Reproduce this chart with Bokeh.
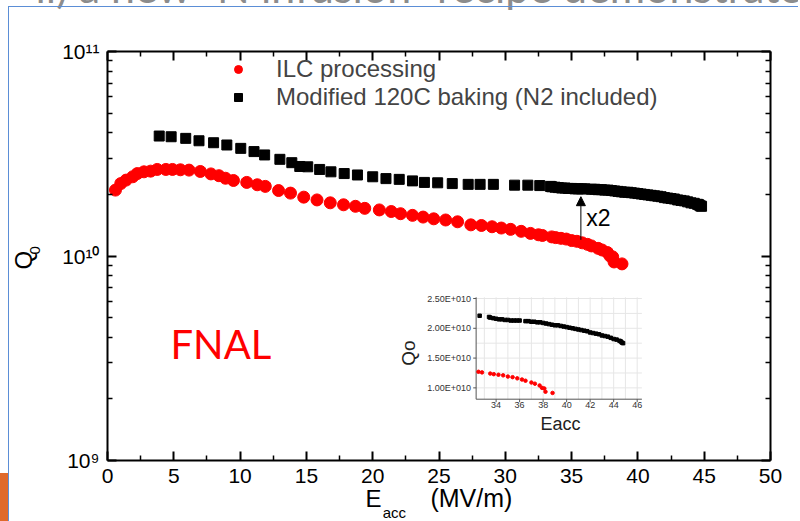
import math
from bokeh.plotting import figure
from bokeh.models import (Range1d, LogScale, LinearAxis, LogAxis, FixedTicker, Label,
                          Arrow, NormalHead, CustomJSTickFormatter, InlineStyleSheet)
from bokeh.core.properties import value
from bokeh.embed import file_html
from bokeh.resources import INLINE

# ---------------- data ----------------
ilc_e = [0.6, 1.0, 1.4, 1.9, 2.25, 2.75, 3.25, 3.75, 4.4, 4.9, 5.5, 6.15, 7.0, 7.8, 8.4, 8.9,
         9.5, 10.5, 11.3, 11.9, 12.9, 13.8, 14.8, 15.8, 16.8, 17.8, 18.7, 19.4, 20.5, 21.4,
         22.1, 23.0, 23.8, 24.6, 25.5, 26.4, 27.4, 28.2, 29.0, 29.7, 30.4, 31.2, 31.9, 32.5,
         32.8, 33.5, 33.8, 34.2, 34.6, 35.0, 35.4, 35.8, 36.2, 36.5, 37.0, 37.3, 37.7, 37.9,
         38.1, 38.2, 38.8]
ilc_q = [2.10e10, 2.26e10, 2.35e10, 2.44e10, 2.53e10, 2.58e10, 2.60e10, 2.65e10, 2.65e10,
         2.65e10, 2.64e10, 2.63e10, 2.59e10, 2.52e10, 2.47e10, 2.40e10, 2.34e10, 2.29e10,
         2.23e10, 2.19e10, 2.09e10, 2.03e10, 1.94e10, 1.88e10, 1.82e10, 1.78e10, 1.75e10,
         1.71e10, 1.68e10, 1.65e10, 1.61e10, 1.58e10, 1.55e10, 1.52e10, 1.50e10, 1.47e10,
         1.42e10, 1.41e10, 1.39e10, 1.37e10, 1.35e10, 1.32e10, 1.29e10, 1.27e10, 1.26e10,
         1.24e10, 1.23e10, 1.22e10, 1.21e10, 1.19e10, 1.18e10, 1.16e10, 1.14e10, 1.12e10,
         1.09e10, 1.07e10, 1.04e10, 1.00e10, 0.99e10, 0.935e10, 0.915e10]

mod_e = [3.9, 4.8, 5.9, 6.9, 8.0, 9.0, 10.05, 11.05, 11.85, 13.0, 13.9, 14.5, 15.1, 16.0,
         16.85, 17.85, 18.85, 20.0, 21.0, 22.0, 23.0, 23.9, 24.9, 26.0, 27.2, 28.1, 29.1,
         30.7, 31.7, 32.6, 33.4, 33.5, 33.75, 34.0, 34.25, 34.5, 34.75, 35.0, 35.25, 35.5,
         35.75, 36.0, 36.5, 36.75, 37.0, 37.25, 37.5, 37.75, 38.0, 38.25, 38.5, 38.75, 39.0,
         39.25, 39.5, 39.75, 40.0, 40.25, 40.5, 40.75, 41.0, 41.25, 41.5, 41.75, 42.0, 42.25,
         42.5, 42.75, 43.0, 43.25, 43.5, 43.75, 44.0, 44.25, 44.5, 44.6, 44.7, 44.8]
mod_q = [3.86e10, 3.83e10, 3.76e10, 3.66e10, 3.58e10, 3.49e10, 3.36e10, 3.24e10, 3.12e10,
         2.97e10, 2.86e10, 2.74e10, 2.73e10, 2.65e10, 2.58e10, 2.53e10, 2.49e10, 2.44e10,
         2.39e10, 2.37e10, 2.33e10, 2.29e10, 2.28e10, 2.26e10, 2.24e10, 2.24e10, 2.24e10,
         2.22e10, 2.22e10, 2.21e10, 2.19e10, 2.18e10, 2.17e10, 2.16e10, 2.15e10, 2.15e10,
         2.14e10, 2.14e10, 2.13e10, 2.13e10, 2.13e10, 2.13e10, 2.12e10, 2.12e10, 2.11e10,
         2.11e10, 2.10e10, 2.10e10, 2.09e10, 2.08e10, 2.07e10, 2.06e10, 2.05e10, 2.05e10,
         2.04e10, 2.03e10, 2.02e10, 2.01e10, 2.00e10, 1.99e10, 1.98e10, 1.97e10, 1.96e10,
         1.95e10, 1.93e10, 1.92e10, 1.91e10, 1.90e10, 1.88e10, 1.87e10, 1.86e10, 1.84e10,
         1.82e10, 1.81e10, 1.79e10, 1.78e10, 1.76e10, 1.75e10]

x_ticks = [0, 5, 10, 15, 20, 25, 30, 35, 40, 45, 50]
y_ticks = [1e9, 1e10, 1e11]
inset_x_ticks = [34, 36, 38, 40, 42, 44, 46]
inset_y_ticks = [1.0e10, 1.5e10, 2.0e10, 2.5e10]
inset_y_labels = ["1.00E+010", "1.50E+010", "2.00E+010", "2.50E+010"]

FONT = "Liberation Sans"

# ---------------- main figure ----------------
# default y range is the frame fraction (0 = bottom, 1 = top); Q uses the log range "q"
p = figure(frame_width=663, frame_height=409, title=None,
           min_border_left=107, min_border_right=28, min_border_top=44, min_border_bottom=66,
           x_range=Range1d(0, 50), y_range=Range1d(0, 1),
           x_axis_type=None, y_axis_type=None,
           output_backend="svg", toolbar_location=None)
p.outline_line_color = None
p.extra_y_ranges = {"q": Range1d(1e9, 1e11)}
p.extra_y_scales = {"q": LogScale()}

# slide frame decorations (blue slide border, orange corner)
p.stylesheets = [InlineStyleSheet(css="""
:host::after { content: ""; position: absolute; left: 8px; top: 6px; right: 0; bottom: 0;
  border-left: 1.5px solid #5b8ed6; border-top: 1.5px solid #5b8ed6; pointer-events: none; }
:host::before { content: ""; position: absolute; left: 0; top: 473px; width: 8px; height: 48px;
  background: #e0692a; pointer-events: none; z-index: 2; }
""")]

x_minor = [t + 2.5 for t in x_ticks[:-1]]
y_minor = [k * t for t in y_ticks[:-1] for k in range(2, 10)]


def style(ax):
    ax.axis_line_width = 2
    ax.axis_line_color = "black"
    ax.major_tick_in = 9
    ax.major_tick_out = 0
    ax.minor_tick_in = 5
    ax.minor_tick_out = 0
    ax.major_tick_line_width = 2
    ax.minor_tick_line_width = 1.5
    ax.major_label_text_font = FONT
    ax.major_label_text_color = "black"
    ax.major_label_text_font_size = "21px"
    ax.major_label_standoff = 8


pow10 = CustomJSTickFormatter(code="""
const sup = {'0': '\u2070', '1': '\u00b9', '2': '\u00b2', '3': '\u00b3', '4': '\u2074',
             '5': '\u2075', '6': '\u2076', '7': '\u2077', '8': '\u2078', '9': '\u2079'};
const e = Math.round(Math.log10(tick));
return '10' + String(e).split('').map((c) => sup[c]).join('');
""")

xb = LinearAxis(ticker=FixedTicker(ticks=x_ticks, minor_ticks=x_minor))
xt = LinearAxis(ticker=FixedTicker(ticks=x_ticks, minor_ticks=x_minor),
                formatter=CustomJSTickFormatter(code="return ''"))
yl = LogAxis(y_range_name="q", ticker=FixedTicker(ticks=y_ticks, minor_ticks=y_minor),
             formatter=pow10)
yr = LogAxis(y_range_name="q", ticker=FixedTicker(ticks=y_ticks, minor_ticks=y_minor),
             formatter=CustomJSTickFormatter(code="return ''"))
for ax in (xb, xt, yl, yr):
    style(ax)
p.add_layout(xb, "below")
p.add_layout(xt, "above")
p.add_layout(yl, "left")
p.add_layout(yr, "right")


# ---- text labels (data units: x in MV/m, y as fraction of the frame) ----
def lab(x, y, text, size, place="center", **kw):
    p.add_layout(Label(x=x, y=y, text=text, text_font=kw.pop("font", FONT),
                       text_font_size=size, text_color=kw.pop("color", "black"), **kw), place)


lab(4.75, 0.225, "FNAL", "40px", font="Lato", color="#ff0000")
lab(36.1, 0.56, "x2", "23px")

# slide title, mostly cut off at the top edge as in the reference
lab(-5.43, 1.0954, "ii) a new \u201cN infusion\u201d recipe demonstrated", "43px", place="above",
    font="Lato", color="#8c8c8c")

# axis titles
lab(19.45, -0.1271, "E", "24px", place="below")
lab(20.75, -0.1467, "acc", "15px", place="below")
lab(24.35, -0.1271, "(MV/m)", "25px", place="below")
lab(-6.335, 0.467, "Q", "24px", place="left", angle=math.pi / 2, text_baseline="middle")
lab(-5.43, 0.5037, "0", "15px", place="left", angle=math.pi / 2, text_baseline="middle")

# arrow "x2"
p.add_layout(Arrow(end=NormalHead(size=9, fill_color="black", line_color="black"),
                   x_start=35.7, y_start=1.2e10, x_end=35.7, y_end=1.95e10,
                   y_range_name="q", line_width=1, line_color="black"))

# ---- data ----
p.scatter(ilc_e, ilc_q, y_range_name="q", marker="circle", size=12, color="#ff0000",
          legend_label="ILC processing")
p.scatter(mod_e, mod_q, y_range_name="q", marker="square", size=10, color="black",
          legend_label="Modified 120C baking (N2 included)")

leg = p.legend[0]
leg.location = (121, 349)
leg.border_line_color = None
leg.background_fill_alpha = 0
leg.padding = 0
leg.spacing = 0
leg.glyph_width = 20
leg.glyph_height = 20
leg.label_height = 20
leg.label_standoff = 28
leg.label_text_font = FONT
leg.label_text_font_size = "24px"
leg.label_text_line_height = 1.0

# ---------------- inset ----------------
xlo, xhi = 32.3, 46.4
ylo, yhi = 0.81e10, 2.52e10
ins = p.subplot(x_source=Range1d(xlo, xhi), y_source=Range1d(ylo, yhi),
                x_target=Range1d(27.8, 40.3), y_target=Range1d(0.1499, 0.3990))

gx = list(range(33, 47))
gy = [1.0e10, 1.25e10, 1.5e10, 1.75e10, 2.0e10, 2.25e10, 2.5e10]
ins.segment(x0=gx, y0=[ylo] * len(gx), x1=gx, y1=[yhi] * len(gx), line_color="#e6e6e6", line_width=1)
ins.segment(x0=[xlo] * len(gy), y0=gy, x1=[xhi] * len(gy), y1=gy, line_color="#e6e6e6", line_width=1)
ins.segment(x0=[xlo, xlo], y0=[ylo, ylo], x1=[xlo, xhi], y1=[yhi, ylo], line_color="#555555", line_width=1)
ins.segment(x0=[xlo - 0.25] * len(inset_y_ticks), y0=inset_y_ticks, x1=[xlo] * len(inset_y_ticks),
            y1=inset_y_ticks, line_color="#555555", line_width=1)
ins.segment(x0=inset_x_ticks, y0=[ylo - 0.05e10] * len(inset_x_ticks), x1=inset_x_ticks,
            y1=[ylo] * len(inset_x_ticks), line_color="#555555", line_width=1)

ins.text(x=[xlo] * len(inset_y_ticks), y=inset_y_ticks, text=inset_y_labels, x_offset=-5,
         text_align="right", text_baseline="middle", text_font=value(FONT),
         text_font_size="9px", text_color="#333333")
ins.text(x=inset_x_ticks, y=[ylo] * len(inset_x_ticks), text=[str(t) for t in inset_x_ticks],
         y_offset=3, text_align="center", text_baseline="top", text_font=value(FONT),
         text_font_size="9px", text_color="#333333")
ins.text(x=[39.47], y=[ylo], text=["Eacc"], y_offset=25, text_align="center",
         text_baseline="middle", text_font=value(FONT), text_font_size="18px", text_color="#222222")
ins.text(x=[xlo], y=[1.585e10], text=["Qo"], x_offset=-68, angle=math.pi / 2, text_align="center",
         text_baseline="middle", text_font=value(FONT), text_font_size="19px", text_color="#222222")

in_ilc_e = [e for e in ilc_e if e >= xlo]
in_ilc_q = [q for e, q in zip(ilc_e, ilc_q) if e >= xlo]
in_mod_e = [e for e in mod_e if e >= xlo]
in_mod_q = [q for e, q in zip(mod_e, mod_q) if e >= xlo]
ins.scatter(in_ilc_e, in_ilc_q, marker="circle", size=3.5, color="#ff0000")
ins.scatter(in_mod_e, in_mod_q, marker="square", size=3.5, color="black")

open("out.html", "w").write(file_html(p, INLINE))
